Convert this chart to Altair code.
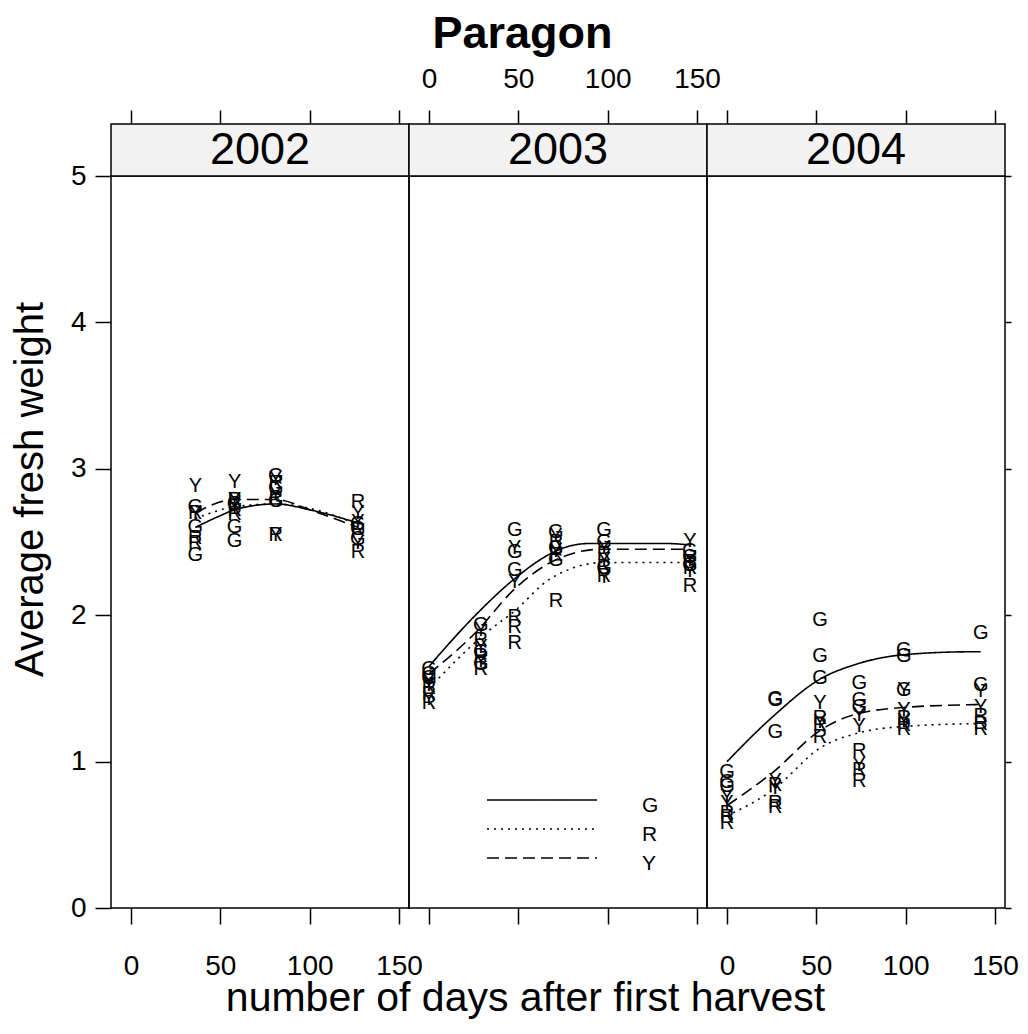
import altair as alt
import pandas as pd

FONT = "Liberation Sans"
YEARS = ["2002", "2003", "2004"]
GROUPS = ["G", "R", "Y"]
X_TICKS = [0, 50, 100, 150]
Y_TICKS = [0, 1, 2, 3, 4, 5]

# ---- observed points (days after first harvest, weights per group) ----
days_2002 = [36, 58, 81, 127]
g_2002 = [[2.74, 2.60, 2.41], [2.76, 2.60, 2.51], [2.95, 2.87, 2.78], [2.62, 2.59, 2.52]]
r_2002 = [[2.70, 2.53, 2.49], [2.79, 2.72, 2.69], [2.90, 2.80, 2.55], [2.77, 2.58, 2.43]]
y_2002 = [[2.88, 2.70], [2.91, 2.79, 2.74], [2.93, 2.83, 2.55], [2.70, 2.64, 2.49]]

days_2003 = [0, 29, 48, 71, 98, 146]
g_2003 = [[1.63, 1.60, 1.57], [1.93, 1.75, 1.67], [2.58, 2.43, 2.31], [2.57, 2.46, 2.38], [2.58, 2.50, 2.32], [2.44, 2.40, 2.34]]
r_2003 = [[1.50, 1.46, 1.40], [1.83, 1.72, 1.63], [1.99, 1.92, 1.81], [2.50, 2.41, 2.10], [2.42, 2.33, 2.27], [2.36, 2.32, 2.20]]
y_2003 = [[1.55, 1.52, 1.43], [1.90, 1.78, 1.69], [2.46, 2.23], [2.54, 2.44], [2.46, 2.38, 2.26], [2.51, 2.38, 2.30]]

days_2004 = [0, 27, 52, 74, 99, 142]
g_2004 = [[0.93, 0.86, 0.83], [1.43, 1.42, 1.20], [1.97, 1.72, 1.57], [1.54, 1.42, 1.37], [1.76, 1.72, 1.49], [1.88, 1.52]]
r_2004 = [[0.65, 0.62, 0.58], [0.84, 0.72, 0.69], [1.30, 1.25, 1.17], [1.07, 0.94, 0.87], [1.30, 1.25, 1.22], [1.31, 1.26, 1.22]]
y_2004 = [[0.76, 0.72], [0.87, 0.82], [1.40, 1.27], [1.32, 1.24, 0.98], [1.49, 1.35, 1.28], [1.48, 1.37]]

# ---- smooth curves ----
lg_2002_d = [36, 50, 58, 81, 100, 127]
lg_2002_v = [2.60, 2.68, 2.72, 2.76, 2.72, 2.63]
lr_2002_d = [36, 58, 81, 100, 127]
lr_2002_v = [2.66, 2.74, 2.76, 2.73, 2.62]
ly_2002_d = [36, 58, 81, 100, 127]
ly_2002_v = [2.70, 2.79, 2.79, 2.72, 2.60]

lg_2003_d = [0, 26, 48, 68, 78, 90, 132, 146]
lg_2003_v = [1.65, 2.00, 2.25, 2.42, 2.47, 2.49, 2.49, 2.48]
lr_2003_d = [0, 32, 48, 68, 98, 146]
lr_2003_v = [1.50, 1.88, 2.03, 2.25, 2.36, 2.36]
ly_2003_d = [0, 26, 48, 68, 96, 146]
ly_2003_v = [1.60, 1.88, 2.18, 2.36, 2.45, 2.45]

lg_2004_d = [0, 25, 53, 71, 99, 136, 142]
lg_2004_v = [1.00, 1.30, 1.57, 1.66, 1.73, 1.75, 1.75]
lr_2004_d = [0, 25, 53, 75, 99, 142]
lr_2004_v = [0.63, 0.80, 1.10, 1.20, 1.24, 1.26]
ly_2004_d = [0, 25, 53, 71, 99, 142]
ly_2004_v = [0.70, 0.92, 1.22, 1.32, 1.37, 1.39]

points_src = {
    "2002": (days_2002, {"G": g_2002, "R": r_2002, "Y": y_2002}),
    "2003": (days_2003, {"G": g_2003, "R": r_2003, "Y": y_2003}),
    "2004": (days_2004, {"G": g_2004, "R": r_2004, "Y": y_2004}),
}
lines_src = {
    "2002": {"G": (lg_2002_d, lg_2002_v), "R": (lr_2002_d, lr_2002_v), "Y": (ly_2002_d, ly_2002_v)},
    "2003": {"G": (lg_2003_d, lg_2003_v), "R": (lr_2003_d, lr_2003_v), "Y": (ly_2003_d, ly_2003_v)},
    "2004": {"G": (lg_2004_d, lg_2004_v), "R": (lr_2004_d, lr_2004_v), "Y": (ly_2004_d, ly_2004_v)},
}

prow = []
for yr, (days, groups) in points_src.items():
    for g, lists in groups.items():
        for d, vals in zip(days, lists):
            for v in vals:
                prow.append({"year": yr, "day": d, "group": g, "weight": v})
pts_df = pd.DataFrame(prow)

lrow = []
for yr, groups in lines_src.items():
    for g, (ds, vs) in groups.items():
        for d, v in zip(ds, vs):
            lrow.append({"year": yr, "day": d, "group": g, "weight": v})
lines_df = pd.DataFrame(lrow)

W, H = 298, 732
STRIP = 52
xs = alt.Scale(domain=[-11.2, 155.6], nice=False, zero=False)
ys = alt.Scale(domain=[0, 5], nice=False, zero=False)
dash = alt.Scale(domain=GROUPS, range=[[1, 0], [2, 5], [12, 6]])


def bottom_axis(i):
    if i == 1:
        return alt.Axis(orient="bottom", values=X_TICKS, tickSize=16, labels=False,
                        domain=False, grid=False, title="number of days after first harvest",
                        titleFontSize=41, titlePadding=54, titleX=116, titleFontWeight="normal")
    return alt.Axis(orient="bottom", values=X_TICKS, tickSize=16, labelPadding=28,
                    labelFontSize=28, domain=False, grid=False, title=None, labelFlush=False)


def top_axis(i):
    if i == 1:
        return alt.Axis(orient="top", values=X_TICKS, tickSize=14, offset=STRIP, labelPadding=17,
                        labelFontSize=28, domain=False, grid=False, title="Paragon",
                        titleFontSize=45, titleFontWeight="bold", titlePadding=9, titleX=113,
                        labelFlush=False)
    return alt.Axis(orient="top", values=X_TICKS, tickSize=14, offset=STRIP, labels=False,
                    domain=False, grid=False, title=None)


def y_axis(i):
    if i == 0:
        return alt.Axis(orient="left", values=Y_TICKS, tickSize=16, labelPadding=9,
                        labelFontSize=28, domain=False, grid=False, title="Average fresh weight",
                        titleFontSize=40, titlePadding=20, titleY=313, titleFontWeight="normal")
    if i == 2:
        return alt.Axis(orient="right", values=Y_TICKS, tickSize=6, labels=False,
                        domain=False, grid=False, title=None)
    return None


def panel(i, yr):
    p = pts_df[pts_df.year == yr]
    l = lines_df[lines_df.year == yr]
    strip_df = pd.DataFrame({"year": [yr]})

    strip_rect = alt.Chart(strip_df).mark_rect(fill="#f2f2f2", stroke="black", strokeWidth=1.5).encode(
        x=alt.value(0), x2=alt.value(W), y=alt.value(-STRIP), y2=alt.value(0))
    strip_text = alt.Chart(strip_df).mark_text(fontSize=45, font=FONT, baseline="middle").encode(
        x=alt.value(W / 2), y=alt.value(-STRIP / 2), text="year:N")

    lines = alt.Chart(l).mark_line(color="black", strokeWidth=1.6, interpolate="monotone").encode(
        x=alt.X("day:Q", scale=xs, axis=bottom_axis(i)),
        y=alt.Y("weight:Q", scale=ys, axis=y_axis(i)),
        strokeDash=alt.StrokeDash("group:N", scale=dash, legend=None),
        detail="group:N",
    )
    letters = alt.Chart(p).mark_text(fontSize=20, font=FONT, color="black").encode(
        x=alt.X("day:Q", scale=xs, axis=top_axis(i)),
        y=alt.Y("weight:Q", scale=ys, axis=None),
        text="group:N",
    )
    layers = [strip_rect, strip_text, lines, letters]
    if i == 1:
        leg_df = pd.DataFrame({"group": GROUPS})
        lscale = alt.Scale(type="point", domain=GROUPS, range=[624, 682], padding=0)
        leg_rule = alt.Chart(leg_df).mark_rule(color="black", strokeWidth=1.6).encode(
            x=alt.value(78), x2=alt.value(188),
            y=alt.Y("group:N", scale=lscale, axis=None),
            strokeDash=alt.StrokeDash("group:N", scale=dash, legend=None),
        )
        leg_text = alt.Chart(leg_df).mark_text(fontSize=21, font=FONT, align="left", dy=6).encode(
            x=alt.value(233),
            y=alt.Y("group:N", scale=lscale, axis=None),
            text="group:N",
        )
        layers += [leg_rule, leg_text]
    return alt.layer(*layers).resolve_scale(y="independent").resolve_axis(
        x="independent", y="independent").properties(width=W, height=H)


chart = alt.hconcat(*[panel(i, yr) for i, yr in enumerate(YEARS)], spacing=0, bounds="flush").properties(
    padding={"left": 1, "top": 2, "right": 0, "bottom": 0}
).configure_view(stroke="black", strokeWidth=1.5).configure_axis(
    tickColor="black", tickWidth=1.5, labelColor="black", titleColor="black",
    labelFont=FONT, titleFont=FONT
).configure_text(font=FONT)

chart.save("out.html", embed_options={"renderer": "svg", "actions": False})
